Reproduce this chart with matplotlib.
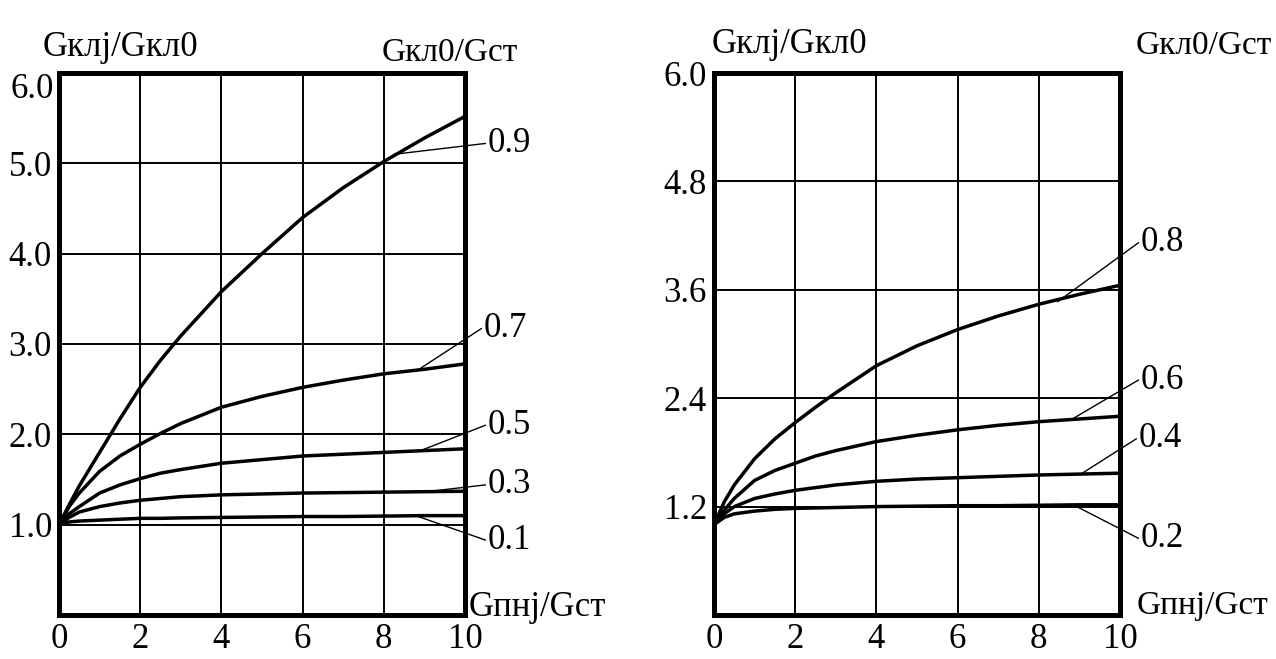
import numpy as np
import matplotlib.pyplot as plt

plt.rcParams['font.family'] = ['Liberation Serif', 'DejaVu Serif']

x_pts = [0, 0.25, 0.5, 1, 1.5, 2, 2.5, 3, 4, 5, 6, 7, 8, 9, 10]

# left panel: Gклj/Gкл0 for Gкл0/Gст = 0.9, 0.7, 0.5, 0.3, 0.1
left_params = ['0.9', '0.7', '0.5', '0.3', '0.1']
left_curves = [
    [1.0, 1.22, 1.43, 1.80, 2.17, 2.52, 2.82, 3.09, 3.58, 4.00, 4.40, 4.73, 5.02, 5.28, 5.52],
    [1.0, 1.20, 1.35, 1.59, 1.76, 1.89, 2.01, 2.12, 2.30, 2.42, 2.52, 2.60, 2.67, 2.72, 2.78],
    [1.0, 1.12, 1.20, 1.35, 1.44, 1.51, 1.57, 1.61, 1.68, 1.72, 1.76, 1.78, 1.80, 1.82, 1.84],
    [1.0, 1.08, 1.14, 1.20, 1.24, 1.27, 1.29, 1.31, 1.33, 1.34, 1.35, 1.355, 1.36, 1.365, 1.37],
    [1.0, 1.03, 1.04, 1.05, 1.06, 1.07, 1.07, 1.075, 1.08, 1.085, 1.09, 1.09, 1.095, 1.10, 1.10],
]
# label position and point on curve for each leader line
left_label_xy = [(10.5, 5.22), (10.4, 3.17), (10.5, 2.1), (10.5, 1.44), (10.5, 0.83)]
left_curve_xy = [(8.25, 5.10), (8.8, 2.70), (8.85, 1.81), (8.95, 1.36), (8.85, 1.09)]

# right panel: Gкл0/Gст = 0.8, 0.6, 0.4, 0.2
right_params = ['0.8', '0.6', '0.4', '0.2']
right_curves = [
    [1.0, 1.25, 1.44, 1.73, 1.95, 2.13, 2.30, 2.46, 2.76, 2.98, 3.16, 3.31, 3.44, 3.55, 3.65],
    [1.0, 1.16, 1.29, 1.49, 1.60, 1.68, 1.76, 1.82, 1.92, 1.99, 2.05, 2.10, 2.14, 2.17, 2.20],
    [1.0, 1.12, 1.20, 1.29, 1.34, 1.38, 1.41, 1.44, 1.48, 1.505, 1.52, 1.535, 1.55, 1.56, 1.57],
    [1.0, 1.08, 1.12, 1.15, 1.17, 1.18, 1.185, 1.19, 1.20, 1.205, 1.21, 1.21, 1.215, 1.22, 1.22],
]
right_label_xy = [(10.45, 4.12), (10.45, 2.6), (10.4, 1.95), (10.45, 0.85)]
right_curve_xy = [(8.47, 3.47), (8.77, 2.155), (9.02, 1.555), (8.87, 1.215)]

x_ticks = [0, 2, 4, 6, 8, 10]
left_yticks = [1.0, 2.0, 3.0, 4.0, 5.0, 6.0]
right_yticks = [1.2, 2.4, 3.6, 4.8, 6.0]

fig = plt.figure(figsize=(12.76, 6.59), dpi=100)
ax1 = fig.add_axes([59 / 1276, 1 - 615 / 659, 406 / 1276, 542 / 659])
ax2 = fig.add_axes([714 / 1276, 1 - 615 / 659, 406 / 1276, 542 / 659])

fs = 24


def draw_panel(ax, curves, params, label_xy, curve_xy, yticks):
    ax.set_xlim(0, 10)
    ax.set_ylim(0, 6)
    for v in [2, 4, 6, 8]:
        ax.axvline(v, color='black', lw=1.4, zorder=1)
    for v in yticks:
        if v < 6:
            ax.axhline(v, color='black', lw=1.4, zorder=1)
    for ys in curves:
        ax.plot(x_pts, ys, color='black', lw=2.5, zorder=3,
                solid_joinstyle='round', solid_capstyle='butt')
    for p, (lx, ly), (cx, cy) in zip(params, label_xy, curve_xy):
        ax.plot([cx, lx], [cy, ly], color='black', lw=1.0, clip_on=False, zorder=2)
        ax.text(lx + 0.05, ly, p, fontsize=fs + 1, ha='left', va='center', clip_on=False)
    ax.set_xticks(x_ticks)
    ax.set_xticklabels([str(t) for t in x_ticks], fontsize=fs + 1)
    ax.set_yticks(yticks)
    ax.set_yticklabels(['%.1f' % t for t in yticks], fontsize=fs + 1)
    ax.tick_params(axis='x', length=0, pad=6)
    ax.tick_params(axis='y', length=0, pad=5)
    for s in ax.spines.values():
        s.set_linewidth(3.6)
        s.set_zorder(5)


draw_panel(ax1, left_curves, left_params, left_label_xy, left_curve_xy, left_yticks)
# the top tick label of the left panel sits a bit below the frame in the reference
ax1.get_yticklabels()[-1].set_alpha(0)
ax1.text(-0.13, 5.82, '6.0', fontsize=fs + 1, ha='right', va='center', clip_on=False)
ax1.text(-0.4, 6.1, 'Gклj/Gкл0', fontsize=fs + 1, ha='left', va='bottom', clip_on=False)
ax1.text(7.95, 6.05, 'Gкл0/Gст', fontsize=fs, ha='left', va='bottom', clip_on=False)
ax1.text(10.1, 0.08, 'Gпнj/Gст', fontsize=fs + 1, ha='left', va='center', clip_on=False)

draw_panel(ax2, right_curves, right_params, right_label_xy, right_curve_xy, right_yticks)
ax2.text(-0.05, 6.13, 'Gклj/Gкл0', fontsize=fs + 1, ha='left', va='bottom', clip_on=False)
ax2.text(13.75, 6.13, 'Gкл0/Gст', fontsize=fs, ha='right', va='bottom', clip_on=False)
ax2.text(10.4, 0.1, 'Gпнj/Gст', fontsize=fs, ha='left', va='center', clip_on=False)

fig.savefig('out.png', dpi=100)
